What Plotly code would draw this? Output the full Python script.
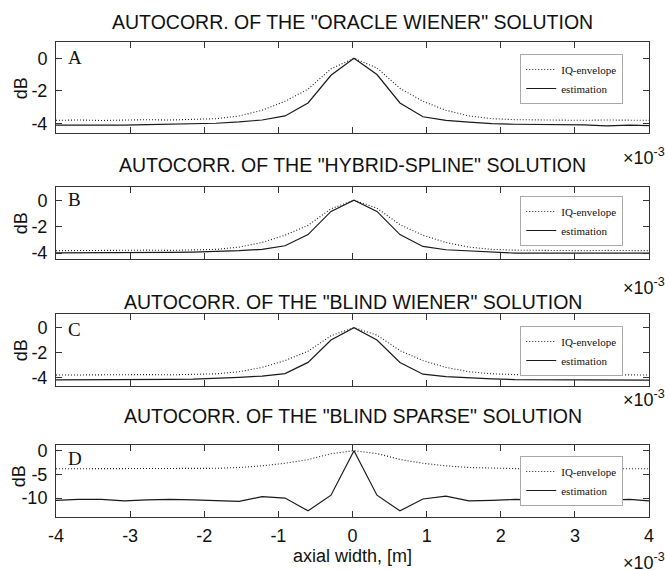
import plotly.graph_objects as go
from plotly.subplots import make_subplots

# axial width in units of 1e-3 m
axial = [-4.0, -3.70, -3.39, -3.08, -2.77, -2.46, -2.15, -1.84, -1.53, -1.22, -0.91, -0.60, -0.29,
         0.02, 0.33, 0.64, 0.95, 1.26, 1.57, 1.88, 2.19, 2.50, 2.81, 3.12, 3.43, 3.74, 4.0]

iq_envelope = [-3.82, -3.80, -3.83, -3.80, -3.78, -3.80, -3.78, -3.72, -3.55, -3.2, -2.65, -1.9, -0.65,
               0.0, -0.6, -1.85, -2.65, -3.2, -3.55, -3.72, -3.78, -3.80, -3.80, -3.82, -3.80, -3.80, -3.82]

est_oracle = [-4.12, -4.12, -4.16, -4.12, -4.08, -4.06, -4.05, -4.0, -3.92, -3.8, -3.55, -2.75, -1.05,
              0.0, -1.0, -2.75, -3.6, -3.82, -3.93, -4.02, -4.06, -4.06, -4.07, -4.1, -4.16, -4.12, -4.15]

est_hybrid = [-3.98, -3.98, -4.0, -3.99, -3.96, -3.95, -3.93, -3.9, -3.82, -3.72, -3.45, -2.6, -0.85,
              0.0, -0.85, -2.6, -3.5, -3.75, -3.85, -3.95, -4.0, -4.0, -4.0, -4.02, -4.0, -4.0, -4.0]

est_blind_wiener = [-4.2, -4.2, -4.22, -4.2, -4.18, -4.16, -4.14, -4.1, -4.0, -3.9, -3.7, -2.8, -1.0,
                    0.0, -1.0, -2.8, -3.75, -3.95, -4.05, -4.12, -4.18, -4.18, -4.18, -4.2, -4.22, -4.2, -4.22]

est_blind_sparse = [-10.5, -10.3, -10.3, -10.6, -10.4, -10.3, -10.4, -10.5, -10.7, -9.7, -10.0, -12.7, -9.4,
                    0.0, -9.4, -12.7, -10.2, -9.6, -10.6, -10.5, -10.3, -10.4, -10.3, -10.6, -10.4, -10.3, -10.6]

x_ticks = [-4, -3, -2, -1, 0, 1, 2, 3, 4]
x_tick_labels = ["-4", "-3", "-2", "-1", "0", "1", "2", "3", "4"]
titles = ['AUTOCORR. OF THE "ORACLE WIENER" SOLUTION',
          'AUTOCORR. OF THE "HYBRID-SPLINE" SOLUTION',
          'AUTOCORR. OF THE "BLIND WIENER" SOLUTION',
          'AUTOCORR. OF THE "BLIND SPARSE" SOLUTION']
letters = ["A", "B", "C", "D"]
estimations = [est_oracle, est_hybrid, est_blind_wiener, est_blind_sparse]
y_ranges = [[-4.6, 1.0], [-4.45, 1.0], [-4.7, 1.1], [-14, 1.2]]
y_ticks = [[-4, -2, 0], [-4, -2, 0], [-4, -2, 0], [-10, -5, 0]]
y_tick_labels = [["-4", "-2", "0"], ["-4", "-2", "0"], ["-4", "-2", "0"], ["-10", "-5", "0"]]
x_label = "axial width, [m]"
y_label = "dB"
legend_names = ["IQ-envelope", "estimation"]

# layout geometry (pixels)
W, H = 665, 570
L, R, T, B = 56, 11, 42, 53
plot_h = H - T - B
panels_px = [(42, 133), (187, 259), (314, 386), (445, 517)]
title_px = [22, 165, 302, 416]
exp_px = [156, 286, 398, 561]
legend_top_px = [54, 196, 326, 456]
letter_px = [58, 200, 329, 458]
dB_px = [(21, 88), (21, 223), (21, 350), (19, 476)]


def py(p):
    return (H - B - p) / plot_h


def px(p):
    return (p - L) / (W - L - R)


fig = make_subplots(rows=4, cols=1)
font_sans = "Liberation Sans, Arial, sans-serif"
font_serif = "Liberation Serif, Times New Roman, serif"
axcol = "#333333"

annotations = []
for i in range(4):
    leg = "legend" if i == 0 else f"legend{i+1}"
    fig.add_trace(go.Scatter(x=axial, y=iq_envelope, mode="lines", name=legend_names[0],
                             line=dict(color="#222222", width=1.1, dash="1px,2px"), legend=leg),
                  row=i + 1, col=1)
    fig.add_trace(go.Scatter(x=axial, y=estimations[i], mode="lines", name=legend_names[1],
                             line=dict(color="#1a1a1a", width=1.2), legend=leg),
                  row=i + 1, col=1)
    top, bot = panels_px[i]
    xa = "xaxis" if i == 0 else f"xaxis{i+1}"
    ya = "yaxis" if i == 0 else f"yaxis{i+1}"
    fig.layout[xa].update(domain=[0, 1], range=[-4, 4], tickvals=x_ticks,
                          ticktext=x_tick_labels,
                          showticklabels=(i == 3), ticks="inside", ticklen=6,
                          tickcolor=axcol, showline=True, linecolor=axcol, linewidth=1,
                          mirror="ticks", showgrid=False, zeroline=False,
                          tickfont=dict(family=font_sans, size=18, color="#111"),
                          ticklabelstandoff=2)
    fig.layout[ya].update(domain=[py(bot), py(top)], range=y_ranges[i], tickvals=y_ticks[i],
                          ticktext=y_tick_labels[i],
                          ticks="inside", ticklen=6, tickcolor=axcol, showline=True,
                          linecolor=axcol, linewidth=1, mirror="ticks", showgrid=False,
                          zeroline=False, tickfont=dict(family=font_sans, size=18, color="#111"),
                          ticklabelstandoff=4)
    lg = dict(x=px(628), y=py(legend_top_px[i]), xanchor="right", yanchor="top",
              bgcolor="white", bordercolor="#aaaaaa", borderwidth=1,
              font=dict(family=font_serif, size=11, color="#111"), itemwidth=30,
              tracegroupgap=0, itemclick=False)
    fig.layout[leg] = lg
    annotations.append(dict(text=titles[i], xref="paper", yref="paper", x=0.5, y=py(title_px[i]),
                            xanchor="center", yanchor="middle", showarrow=False,
                            font=dict(family=font_sans, size=19.5, color="#111")))
    annotations.append(dict(text="×10<sup>-3</sup>", xref="paper", yref="paper", x=px(626),
                            y=py(exp_px[i]), xanchor="left", yanchor="middle", showarrow=False,
                            font=dict(family=font_sans, size=18, color="#111")))
    annotations.append(dict(text=letters[i], xref="paper", yref="paper", x=px(66),
                            y=py(letter_px[i]), xanchor="left", yanchor="middle", showarrow=False,
                            font=dict(family=font_serif, size=19, color="#111")))
    annotations.append(dict(text=y_label, xref="paper", yref="paper", x=px(dB_px[i][0]),
                            y=py(dB_px[i][1]), xanchor="center", yanchor="middle", textangle=-90,
                            showarrow=False, font=dict(family=font_sans, size=18, color="#111")))

annotations.append(dict(text=x_label, xref="paper", yref="paper", x=0.5, y=py(556),
                        xanchor="center", yanchor="middle", showarrow=False,
                        font=dict(family=font_sans, size=18, color="#111")))

fig.update_layout(width=W, height=H, margin=dict(l=L, r=R, t=T, b=B),
                  paper_bgcolor="white", plot_bgcolor="white", annotations=annotations,
                  showlegend=True)
fig.write_html("out.html")
